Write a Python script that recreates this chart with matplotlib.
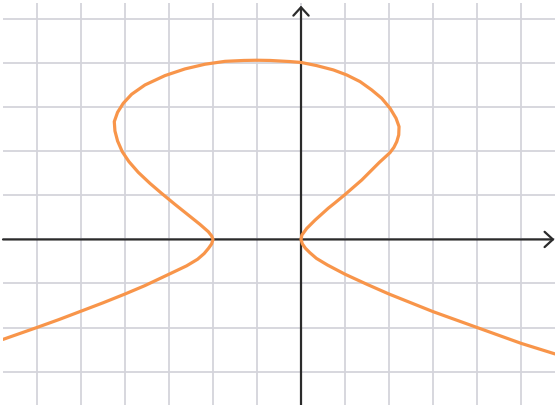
import numpy as np
from matplotlib import pyplot as plt

# 曲线上读出的点（网格单位，原点在坐标轴交点），从左下沿曲线走到右下
curve_x = [-6.77, -6.0, -5.5, -5.0, -4.5, -4.0, -3.55, -3.0, -2.60, -2.35, -2.20,
           -2.10, -2.03, -2.0,
           -2.03, -2.106, -2.295, -2.561, -2.864, -3.167, -3.432, -3.697, -3.909,
           -4.061, -4.167, -4.227, -4.242, -4.167, -4.038, -3.848, -3.545, -3.091,
           -2.636, -2.182, -1.727, -1.3, -1.0, -0.7, -0.25, 0.0, 0.356, 0.735,
           1.038, 1.341, 1.606, 1.833, 2.023, 2.159, 2.227, 2.220, 2.175, 2.11,
           2.02, 1.90, 1.78, 1.53, 1.38, 1.0, 0.77, 0.62, 0.32, 0.13, 0.02, 0.0,
           0.03, 0.10, 0.20, 0.35, 0.60, 1.0, 1.5, 2.0, 2.5, 3.0, 3.5, 4.0, 5.0, 5.77]
curve_y = [-2.27, -2.0, -1.82, -1.63, -1.44, -1.24, -1.05, -0.79, -0.60, -0.45, -0.32,
           -0.20, -0.10, 0.0,
           0.08, 0.176, 0.342, 0.555, 0.797, 1.047, 1.274, 1.524, 1.767,
           1.994, 2.236, 2.464, 2.676, 2.888, 3.092, 3.297, 3.509, 3.721,
           3.873, 3.979, 4.045, 4.065, 4.07, 4.065, 4.04, 4.02, 3.948, 3.850,
           3.736, 3.585, 3.395, 3.206, 2.979, 2.752, 2.562, 2.373, 2.22, 2.09,
           1.97, 1.86, 1.75, 1.50, 1.35, 1.02, 0.83, 0.71, 0.44, 0.25, 0.10, 0.0,
           -0.10, -0.20, -0.30, -0.43, -0.58, -0.79, -1.02, -1.24, -1.44, -1.64, -1.82, -2.0, -2.36, -2.60]

x_ticks = list(range(-6, 6))
y_ticks = list(range(-3, 6))

xmin, xmax = -6.77, 5.77
ymin, ymax = -3.76, 5.37

fig = plt.figure(figsize=(5.55, 4.05), dpi=100)
ax = fig.add_axes([3 / 555, 0, 552 / 555, 402 / 405])
ax.set_xlim(xmin, xmax)
ax.set_ylim(ymin, ymax)

# 网格
ax.set_xticks(x_ticks)
ax.set_yticks(y_ticks)
ax.grid(True, color='#d4d4db', linewidth=1.3)
ax.tick_params(length=0, labelbottom=False, labelleft=False)
for s in ax.spines.values():
    s.set_visible(False)

# 坐标轴和箭头
arrow = dict(arrowstyle='->,head_length=0.6,head_width=0.55', color='#2b2b2b',
             linewidth=1.6, shrinkA=0, shrinkB=0)
ax.annotate('', xy=(5.76, 0), xytext=(xmin, 0), arrowprops=arrow)
ax.annotate('', xy=(0, 5.31), xytext=(0, ymin), arrowprops=arrow)

# 曲线
ax.plot(curve_x, curve_y, color='#f8954a', linewidth=2.3, solid_joinstyle='round',
        solid_capstyle='round', zorder=3)

plt.savefig('out.png', dpi=100)
